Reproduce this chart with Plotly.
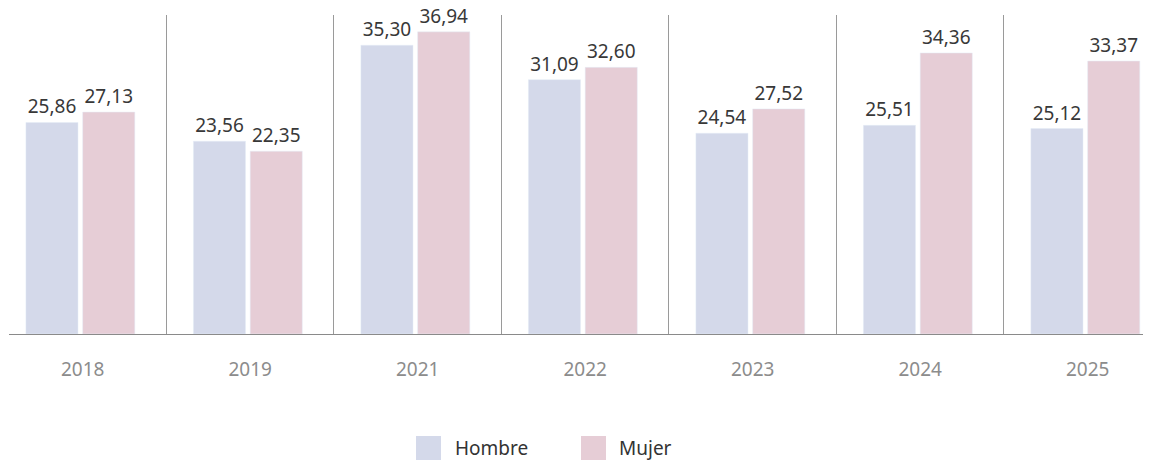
import plotly.graph_objects as go

years = ["2018", "2019", "2021", "2022", "2023", "2024", "2025"]
hombre = [25.86, 23.56, 35.30, 31.09, 24.54, 25.51, 25.12]
mujer = [27.13, 22.35, 36.94, 32.60, 27.52, 34.36, 33.37]
series_names = ["Hombre", "Mujer"]
colors = ["#d4d9ea", "#e6cdd6"]
bar_offsets = [-0.339, 0.0]
bar_width = 0.311

def fmt(v):
    return f"{v:.2f}".replace(".", ",")

fig = go.Figure()
for name, vals, col, off in zip(series_names, [hombre, mujer], colors, bar_offsets):
    fig.add_trace(go.Bar(
        x=years, y=vals, name=name, marker_color=col,
        offset=off, width=bar_width,
        text=[fmt(v) for v in vals], textposition="outside",
        textfont=dict(family="Noto Sans", size=19, color="#383838"),
        cliponaxis=False, showlegend=False,
    ))

# page offset (body margin) is 8px
OFF = 8
FW, FH = 1151 - OFF, 460 - OFF
L, T = 9 - OFF, 15 - OFF
H = 334 - 15
W = FW - L

def px_x(p):
    return (p - OFF - L) / W
def px_y(p):
    return (T + H - (p - OFF)) / H

leg = [(416, 453, series_names[0], colors[0]), (581, 617, series_names[1], colors[1])]
for sx, tx, name, col in leg:
    fig.add_shape(type="rect", xref="paper", yref="paper",
                  x0=px_x(sx), x1=px_x(sx + 25), y0=px_y(436), y1=px_y(460),
                  fillcolor=col, line_width=0)
    fig.add_annotation(xref="paper", yref="paper", x=px_x(tx), y=px_y(448),
                       text=name, showarrow=False, xanchor="left", yanchor="middle",
                       font=dict(family="Noto Sans", size=19, color="#333333"))

fig.update_layout(
    width=FW, height=FH,
    margin=dict(l=L, r=0, t=T, b=FH - T - H, pad=0),
    plot_bgcolor="white", paper_bgcolor="white",
    barmode="group",
    font=dict(family="Noto Sans"),
)
fig.update_xaxes(
    type="category", range=[-0.44, 6.378],
    showgrid=True, tickson="boundaries", gridcolor="#9a9a9a", gridwidth=1,
    showline=True, linecolor="#8a8a8a", linewidth=1,
    ticks="", ticklabelstandoff=18,
    tickfont=dict(family="Noto Sans", size=19, color="#8c8c8c"),
)
fig.update_yaxes(range=[0, 39], visible=False, showgrid=False, zeroline=False)

fig.write_html("out.html")
